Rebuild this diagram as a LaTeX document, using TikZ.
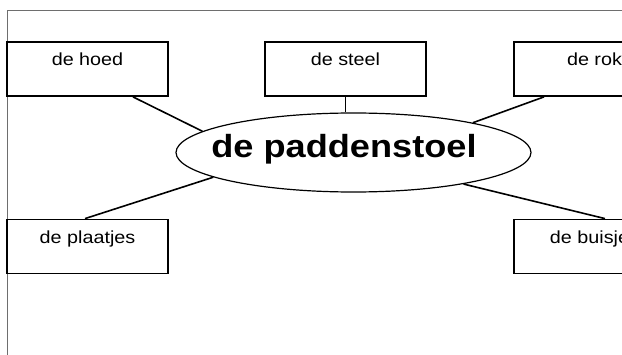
\documentclass[tikz,border=0pt]{standalone}
\usepackage{fontspec}
\setmainfont{Liberation Sans}[FakeStretch=1.13]
\usepackage{tikz}
\usetikzlibrary{shapes.geometric, calc}
\definecolor{FrameGray}{RGB}{110,110,110}

\begin{document}
\begin{tikzpicture}[x=1pt, y=1pt,
          part/.style={rectangle, draw, line width=1.8pt,
                       minimum width=161pt, inner xsep=0pt, inner ysep=10pt,
                       text height=14pt, text depth=20pt,
                       font=\fontsize{17.5}{20}\selectfont},
          hub/.style={ellipse, draw, line width=1.2pt, inner sep=0pt,
                      minimum width=355pt, minimum height=79pt},
          link/.style={line width=1.6pt}
        ]
        \useasboundingbox (0,0) rectangle (622,354);
        \clip (0,0) rectangle (622,354);

        % Frame
        \draw[FrameGray, line width=0.8pt] (7,-20) |- (650,344);

        % Parts
        \node[part] (hoed)     at ( 87.5,285)   {de hoed};
        \node[part] (steel)    at (345.5,285)   {de steel};
        \node[part] (rok)      at (594.5,285)   {de rok};
        \node[part] (plaatjes) at ( 87.5,107.5) {de plaatjes};
        \node[part] (buisjes)  at (594.5,107.5) {de buisjes};

        % Centre
        \node[hub] (pad) at (353.5,201.5) {};
        \node[font=\fontsize{32}{36}\selectfont\bfseries, anchor=base]
              (padtext) at (344,196) {de paddenstoel};

        % Links
        \draw[link] ($(hoed.south)+(45.5,0)$) -- (pad.172);
        \draw[link] (steel.south) -- (steel.south |- pad.north);
        \draw[link] ($(rok.south)+(-50.5,0)$) -- (pad.14.7);
        \draw[link] ($(plaatjes.north)+(-2.5,0)$) -- (pad.-170.8);
        \draw[link] ($(buisjes.north)+(10.5,0)$) -- (pad.-16.2);
      \end{tikzpicture}
\end{document}
